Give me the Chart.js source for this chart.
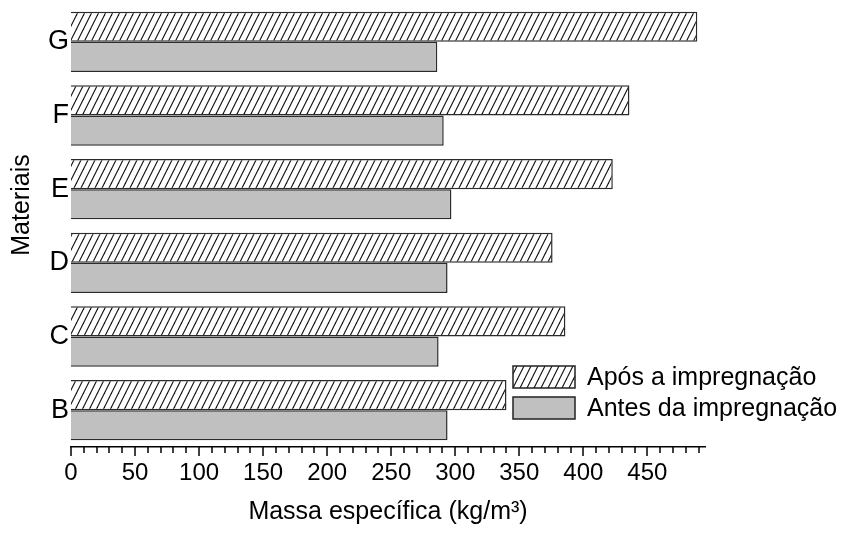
<!DOCTYPE html>
<html>
<head>
<meta charset="utf-8">
<script src="https://cdn.jsdelivr.net/npm/chart.js@4"></script>
<style>
  html, body { margin: 0; padding: 0; background: #fff; }
  #wrap { width: 845px; height: 534px; position: relative; }
</style>
</head>
<body>
<div id="wrap"><canvas id="chart"></canvas></div>
<script>
const materiais = ['G', 'F', 'E', 'D', 'C', 'B'];
const apos = [489, 436, 423, 376, 386, 340];
const antes = [286, 291, 297, 294, 287, 294];
const xMax = 495;

const FONT = "'Liberation Sans', Arial, sans-serif";

// diagonal "/" hatch used for the after-impregnation bars
function hatchPattern() {
  const c = document.createElement('canvas');
  c.width = 7;
  c.height = 14;
  const g = c.getContext('2d');
  g.fillStyle = '#fff';
  g.fillRect(0, 0, 7, 14);
  g.strokeStyle = '#111';
  g.lineWidth = 1.1;
  [-7, 0, 7].forEach(dx => {
    g.beginPath();
    g.moveTo(dx - 1, 16);
    g.lineTo(dx + 8, -2);
    g.stroke();
  });
  return g.createPattern(c, 'repeat');
}

const hatch = hatchPattern();

// minor/major ticks, the y title and the in-plot legend
const extras = {
  id: 'extras',
  afterDraw(chart) {
    const ctx = chart.ctx;
    const x = chart.scales.x;
    const y0 = x.top;
    ctx.save();
    ctx.strokeStyle = '#000';
    ctx.lineWidth = 1.5;
    for (let v = 0; v <= 490; v += 10) {
      const px = Math.round(x.getPixelForValue(v));
      ctx.beginPath();
      ctx.moveTo(px, y0);
      ctx.lineTo(px, y0 + (v % 50 === 0 ? 9 : 6));
      ctx.stroke();
    }

    ctx.fillStyle = '#000';
    ctx.font = '25px ' + FONT;
    ctx.translate(22, 205);
    ctx.rotate(-Math.PI / 2);
    ctx.textAlign = 'center';
    ctx.textBaseline = 'middle';
    ctx.fillText('Materiais', 0, 0);
    ctx.restore();

    ctx.save();
    const rows = [377, 408];
    chart.data.datasets.forEach((ds, i) => {
      const cy = rows[i];
      ctx.fillStyle = ds.backgroundColor;
      ctx.fillRect(513, cy - 11, 62, 22);
      ctx.strokeStyle = '#222';
      ctx.lineWidth = 1.5;
      ctx.strokeRect(513, cy - 11, 62, 22);
      ctx.fillStyle = '#000';
      ctx.font = '25px ' + FONT;
      ctx.textAlign = 'left';
      ctx.textBaseline = 'middle';
      ctx.fillText(ds.label, 587, cy + 1);
    });
    ctx.restore();
  }
};

new Chart(document.getElementById('chart'), {
  type: 'bar',
  data: {
    labels: materiais,
    datasets: [
      {
        label: 'Após a impregnação',
        data: apos,
        backgroundColor: hatch,
        borderColor: '#2b2b2b',
        borderWidth: 1.5,
        borderSkipped: 'start'
      },
      {
        label: 'Antes da impregnação',
        data: antes,
        backgroundColor: '#c0c0c0',
        borderColor: '#2b2b2b',
        borderWidth: 1.5,
        borderSkipped: 'start'
      }
    ]
  },
  options: {
    indexAxis: 'y',
    responsive: true,
    maintainAspectRatio: false,
    devicePixelRatio: 1,
    animation: false,
    layout: { padding: { top: 5, right: 140, left: 0, bottom: 0 } },
    datasets: { bar: { categoryPercentage: 0.82, barPercentage: 1.0 } },
    plugins: {
      legend: { display: false },
      tooltip: { enabled: false }
    },
    scales: {
      x: {
        min: 0,
        max: xMax,
        afterFit(scale) {
          scale.height = 87;
          scale.paddingLeft = 0;
          scale.paddingRight = 0;
        },
        grid: { display: false, drawTicks: false, tickLength: 0 },
        border: { display: true, color: '#000', width: 1.5 },
        ticks: {
          stepSize: 10,
          autoSkip: false,
          maxRotation: 0,
          padding: 12,
          color: '#000',
          font: { family: FONT, size: 24 },
          callback: v => (v % 50 === 0 && v <= 450 ? v : '')
        },
        title: {
          display: true,
          text: 'Massa específica (kg/m³)',
          color: '#000',
          font: { family: FONT, size: 25 },
          padding: { top: 0, bottom: 7 }
        }
      },
      y: {
        afterFit(scale) {
          scale.width = 71;
          scale.paddingTop = 0;
          scale.paddingBottom = 0;
        },
        grid: { display: false, drawTicks: false, tickLength: 0 },
        border: { display: false },
        ticks: {
          padding: 2,
          color: '#000',
          font: { family: FONT, size: 27 }
        }
      }
    }
  },
  plugins: [extras]
});
</script>
</body>
</html>
